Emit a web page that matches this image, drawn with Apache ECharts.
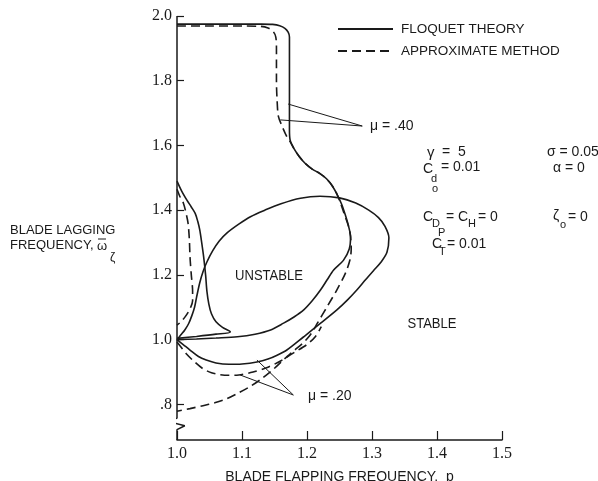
<!DOCTYPE html>
<html><head><meta charset="utf-8">
<script src="https://cdn.jsdelivr.net/npm/echarts@6/dist/echarts.min.js"></script>
<style>html,body{margin:0;padding:0;background:#fff}#c{width:598px;height:481px}</style>
</head><body><div id="c"></div>
<script>
// ---- tick labels ----
const xTickValues = [1.0, 1.1, 1.2, 1.3, 1.4, 1.5];
const xTickLabels = ['1.0', '1.1', '1.2', '1.3', '1.4', '1.5'];
const yTickValues = [0.8, 1.0, 1.2, 1.4, 1.6, 1.8, 2.0];
const yTickLabels = ['.8', '1.0', '1.2', '1.4', '1.6', '1.8', '2.0'];

// ---- curves [flapping frequency, lagging frequency] ----
const mu40Floquet = [[1.0,1.975],[1.05,1.975],[1.10,1.975],[1.13,1.975],[1.147,1.974],[1.158,1.97],[1.166,1.962],[1.171,1.95],[1.173,1.935],[1.173,1.9],[1.173,1.85],[1.173,1.8],[1.173,1.75],[1.173,1.7],[1.173,1.65],[1.174,1.617],[1.18,1.59],[1.188,1.566],[1.197,1.545],[1.208,1.527],[1.22,1.513],[1.23,1.497],[1.239,1.475],[1.246,1.45],[1.253,1.42],[1.259,1.385],[1.264,1.35],[1.267,1.318],[1.265,1.28],[1.256,1.245],[1.241,1.215],[1.231,1.185],[1.221,1.154],[1.208,1.12],[1.195,1.092],[1.18,1.07],[1.164,1.051],[1.144,1.03],[1.12,1.017],[1.093,1.009],[1.06,1.005],[1.03,1.002],[1.0,1.0]];
const mu40Approx = [[1.0,1.969],[1.05,1.969],[1.10,1.969],[1.128,1.968],[1.14,1.963],[1.148,1.952],[1.152,1.935],[1.153,1.9],[1.153,1.85],[1.153,1.8],[1.154,1.74],[1.156,1.69],[1.162,1.658],[1.169,1.627],[1.174,1.612],[1.18,1.59],[1.188,1.566],[1.197,1.545],[1.208,1.527],[1.22,1.513],[1.23,1.497],[1.239,1.475],[1.246,1.45],[1.252,1.42],[1.257,1.39],[1.264,1.35],[1.267,1.318],[1.268,1.28],[1.266,1.246],[1.259,1.205],[1.246,1.154],[1.231,1.102],[1.216,1.051],[1.21,1.03],[1.204,1.012],[1.195,0.992],[1.18,0.966],[1.164,0.938],[1.148,0.908],[1.13,0.879],[1.113,0.856],[1.095,0.836],[1.077,0.818],[1.058,0.805],[1.04,0.796],[1.02,0.787],[1.0,0.779]];
const mu20Floquet = [[1.0,1.0],[1.006,1.015],[1.012,1.03],[1.018,1.05],[1.023,1.075],[1.027,1.10],[1.03,1.13],[1.035,1.176],[1.04,1.21],[1.046,1.24],[1.055,1.275],[1.065,1.305],[1.077,1.33],[1.095,1.357],[1.113,1.38],[1.135,1.40],[1.16,1.42],[1.19,1.437],[1.22,1.443],[1.25,1.438],[1.275,1.422],[1.295,1.40],[1.31,1.377],[1.32,1.35],[1.326,1.315],[1.323,1.27],[1.314,1.24],[1.303,1.215],[1.29,1.185],[1.277,1.154],[1.262,1.122],[1.246,1.092],[1.221,1.051],[1.195,1.009],[1.169,0.968],[1.154,0.952],[1.14,0.94],[1.123,0.931],[1.1,0.925],[1.08,0.924],[1.06,0.928],[1.045,0.937],[1.033,0.948],[1.02,0.968],[1.01,0.984],[1.0,1.0]];
const mu20Approx = [[1.0,0.993],[1.007,0.975],[1.015,0.955],[1.025,0.935],[1.04,0.91],[1.053,0.898],[1.066,0.892],[1.08,0.89],[1.095,0.891],[1.117,0.9],[1.14,0.915],[1.16,0.935],[1.18,0.96],[1.2,0.985],[1.213,1.01],[1.222,1.04]];
const spikeFloquet = [[1.0,1.49],[1.007,1.46],[1.015,1.432],[1.022,1.41],[1.028,1.39],[1.032,1.365],[1.035,1.339],[1.038,1.3],[1.041,1.256],[1.044,1.2],[1.046,1.15],[1.049,1.11],[1.053,1.08],[1.06,1.055],[1.07,1.038],[1.082,1.024],[1.06,1.017],[1.03,1.01],[1.0,1.004]];
const spikeApprox = [[1.0,1.465],[1.005,1.44],[1.01,1.421],[1.014,1.39],[1.017,1.36],[1.019,1.31],[1.02,1.256],[1.022,1.2],[1.024,1.15],[1.024,1.12],[1.02,1.095],[1.013,1.072],[1.006,1.055],[1.0,1.045]];

// ---- leader lines and the broken vertical axis ----
const leaderMu40 = [[1.171,1.728],[1.285,1.66],[1.159,1.679]];
const leaderMu20 = [[1.123,0.937],[1.179,0.829],[1.097,0.891]];
const yAxisBroken = [[1.0,2.0],[1.0,0.758],[0.988,0.746],[1.012,0.734],[1.0,0.722],[1.0,0.69]];

const SANS = '"Liberation Sans", Arial, sans-serif';
const SERIF = '"Liberation Serif", "Times New Roman", serif';
const INK = '#1a1a1a';

function curve(name, data, dashed) {
  return {
    type: 'line', name: name, data: data, symbol: 'none', smooth: 0.3, clip: false, silent: true,
    itemStyle: { color: INK, opacity: 0 },
    lineStyle: { color: INK, width: 1.6, type: dashed ? [9, 5] : 'solid', opacity: 1 }, z: 3
  };
}
function plain(name, data, width) {
  return {
    type: 'line', name: name, data: data, symbol: 'none', smooth: false, clip: false, silent: true,
    itemStyle: { color: INK },
    lineStyle: { color: INK, width: width }, z: 2
  };
}
function txt(x, y, text, size, extra) {
  return Object.assign({
    type: 'text', x: x, y: y, silent: true,
    style: { text: text, fill: INK, font: size + 'px ' + SANS, textAlign: 'left', textVerticalAlign: 'middle' }
  }, extra || {});
}

const chart = echarts.init(document.getElementById('c'), null, { renderer: 'canvas' });
chart.setOption({
  animation: false,
  backgroundColor: '#fff',
  grid: { left: 177, right: 96, top: 16, bottom: 41, containLabel: false, outerBoundsMode: 'none' },
  legend: {
    data: ['FLOQUET THEORY', 'APPROXIMATE METHOD'],
    orient: 'vertical', left: 337, top: 22, padding: 0, itemWidth: 55, itemHeight: 12, itemGap: 8,
    selectedMode: false,
    itemStyle: { opacity: 0 },
    textStyle: { color: INK, fontSize: 13.5, fontFamily: SANS, padding: [0, 0, 0, 3] }
  },
  xAxis: {
    type: 'value', min: 1.0, max: 1.5, interval: 0.1,
    name: 'BLADE FLAPPING FREQUENCY,  p', nameLocation: 'middle', nameGap: 30,
    nameTextStyle: { color: INK, fontSize: 14, fontFamily: SANS },
    axisLine: { show: true, lineStyle: { color: INK, width: 1.5 } },
    axisTick: { show: true, inside: true, length: 9, lineStyle: { color: INK, width: 1.2 } },
    axisLabel: {
      color: INK, fontSize: 16, fontFamily: SERIF, margin: 6,
      formatter: function (v) {
        const i = xTickValues.findIndex(function (t) { return Math.abs(t - v) < 1e-6; });
        return i >= 0 ? xTickLabels[i] : '';
      }
    },
    splitLine: { show: false }
  },
  yAxis: {
    type: 'value', min: 0.69, max: 2.0,
    axisLine: { show: false },
    axisTick: { show: true, inside: true, length: 7, customValues: yTickValues, lineStyle: { color: INK, width: 1.2 } },
    axisLabel: {
      color: INK, fontSize: 16, fontFamily: SERIF, margin: 5, customValues: yTickValues,
      formatter: function (v) {
        const i = yTickValues.findIndex(function (t) { return Math.abs(t - v) < 1e-6; });
        return i >= 0 ? yTickLabels[i] : '';
      }
    },
    splitLine: { show: false }
  },
  series: [
    curve('FLOQUET THEORY', mu40Floquet, false),
    curve('APPROXIMATE METHOD', mu40Approx, true),
    curve('FLOQUET THEORY', mu20Floquet, false),
    curve('APPROXIMATE METHOD', mu20Approx, true),
    curve('FLOQUET THEORY', spikeFloquet, false),
    curve('APPROXIMATE METHOD', spikeApprox, true),
    plain('leader40', leaderMu40, 1),
    plain('leader20', leaderMu20, 1),
    plain('axisY', yAxisBroken, 1.5)
  ],
  graphic: [
    txt(10, 230, 'BLADE LAGGING', 13),
    txt(10, 245, 'FREQUENCY,', 13),
    txt(97, 246, '\u03C9', 13),
    { type: 'line', silent: true, shape: { x1: 98, y1: 239, x2: 106, y2: 239 }, style: { stroke: INK, lineWidth: 1 } },
    txt(110, 258, '\u03B6', 12),
    txt(269, 276, 'UNSTABLE', 15, { scaleX: 0.87, style: { text: 'UNSTABLE', fill: INK, font: '15px ' + SANS, textAlign: 'center', textVerticalAlign: 'middle' } }),
    txt(432, 324, 'STABLE', 15, { scaleX: 0.87, style: { text: 'STABLE', fill: INK, font: '15px ' + SANS, textAlign: 'center', textVerticalAlign: 'middle' } }),
    txt(370, 126, '\u03BC = .40', 14),
    txt(308, 396, '\u03BC = .20', 14),
    // parameter block
    txt(427, 153, '\u03B3', 15),
    txt(442, 152, '=  5', 14),
    txt(547, 152, '\u03C3 = 0.05', 14),
    txt(423, 169, 'C', 14),
    txt(431, 179, 'd', 11),
    txt(432, 189, 'o', 11),
    txt(441, 167, '= 0.01', 14),
    txt(553, 168, '\u03B1 = 0', 14),
    txt(423, 217, 'C', 14),
    txt(432, 224, 'D', 11),
    txt(438, 233, 'P', 11),
    txt(446, 217, '= C', 14),
    txt(468, 224, 'H', 11),
    txt(478, 217, '= 0', 14),
    txt(553, 216, '\u03B6', 14),
    txt(560, 225, 'o', 11),
    txt(568, 217, '= 0', 14),
    txt(432, 244, 'C', 14),
    txt(439, 252, 'T', 11),
    txt(447, 244, '= 0.01', 14)
  ]
});
</script>
</body></html>
